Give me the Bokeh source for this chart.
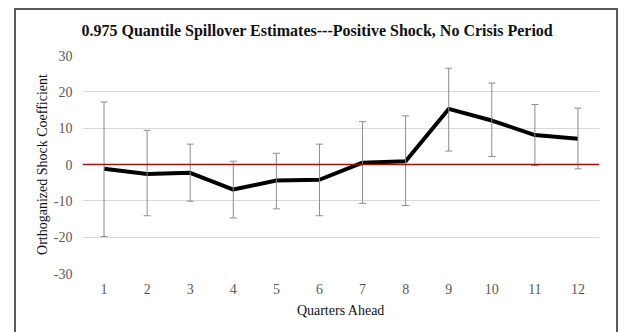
from bokeh.plotting import figure
from bokeh.models import (ColumnDataSource, Whisker, TeeHead, Span, Range1d,
                          FixedTicker, CustomJSTickFormatter)
from bokeh.embed import file_html
from bokeh.resources import INLINE

# Quarter horizons and spillover estimates with their confidence bounds
quarters = ["1", "2", "3", "4", "5", "6", "7", "8", "9", "10", "11", "12"]
estimate = [-1.2, -2.6, -2.3, -6.9, -4.4, -4.2, 0.5, 0.9, 15.3, 12.1, 8.1, 7.1]
upper = [17.2, 9.4, 5.6, 0.9, 3.1, 5.6, 11.8, 13.4, 26.5, 22.4, 16.5, 15.5]
lower = [-19.8, -14.1, -10.1, -14.7, -12.2, -14.1, -10.7, -11.3, 3.7, 2.2, -0.3, -1.2]
y_ticks = [-30, -20, -10, 0, 10, 20, 30]

SERIF = "Liberation Serif"

source = ColumnDataSource(dict(q=quarters, est=estimate, up=upper, lo=lower))

p = figure(
    width=619, height=332,
    x_range=quarters,
    y_range=Range1d(-30, 30),
    output_backend="svg",
    toolbar_location=None,
    min_border_left=82, min_border_right=20,
    min_border_top=55, min_border_bottom=59,
    background_fill_color="white", border_fill_color="white",
)
p.outline_line_color = None

# Title
p.title.text = "0.975 Quantile Spillover Estimates---Positive Shock, No Crisis Period"
p.title.text_font = SERIF
p.title.text_font_size = "16px"
p.title.text_font_style = "bold"
p.title.text_color = "#111111"
p.title.align = "left"
p.title.offset = -1
p.title.standoff = 34

# Grid
p.xgrid.grid_line_color = None
p.ygrid.grid_line_color = "#d9d9d9"
p.ygrid.grid_line_width = 1

# Axes
for ax in (p.xaxis[0], p.yaxis[0]):
    ax.axis_line_color = None
    ax.major_tick_line_color = None
    ax.minor_tick_line_color = None
    ax.major_tick_out = 0
    ax.major_tick_in = 0
    ax.minor_tick_out = 0
    ax.major_label_text_font = SERIF
    ax.major_label_text_font_size = "14px"
    ax.major_label_text_color = "#595959"
    ax.axis_label_text_font = SERIF
    ax.axis_label_text_font_size = "14px"
    ax.axis_label_text_font_style = "normal"
    ax.axis_label_text_color = "#111111"

p.yaxis.ticker = FixedTicker(ticks=y_ticks)
p.yaxis.formatter = CustomJSTickFormatter(code="return String(Math.round(tick));")
p.yaxis.major_label_standoff = 10
p.yaxis.axis_label = "Orthoganized Shock Coefficient"
p.yaxis.axis_label_standoff = 1

p.xaxis.major_label_standoff = 10
p.xaxis.axis_label = "Quarters Ahead"
p.xaxis.axis_label_standoff = 6

# Error bars
whisker = Whisker(
    base="q", upper="up", lower="lo", source=source,
    line_color="#8c8c8c", line_width=1,
    upper_head=TeeHead(size=7, line_color="#8c8c8c", line_width=1),
    lower_head=TeeHead(size=7, line_color="#8c8c8c", line_width=1),
    level="glyph",
)
p.add_layout(whisker)

# Zero reference line
p.add_layout(Span(location=0, dimension="width", line_color="#c00000", line_width=1.3))

# Point estimates
p.line(x="q", y="est", source=source, line_color="black", line_width=4, line_join="round")

# Outer chart frame
p.stylesheets = [
    ":host::after { content: ''; position: absolute; left: 14px; top: 8px; "
    "width: 600px; height: 340px; border: 2px solid #5a5a5a; pointer-events: none; }"
]

open("out.html", "w").write(file_html(p, INLINE))
